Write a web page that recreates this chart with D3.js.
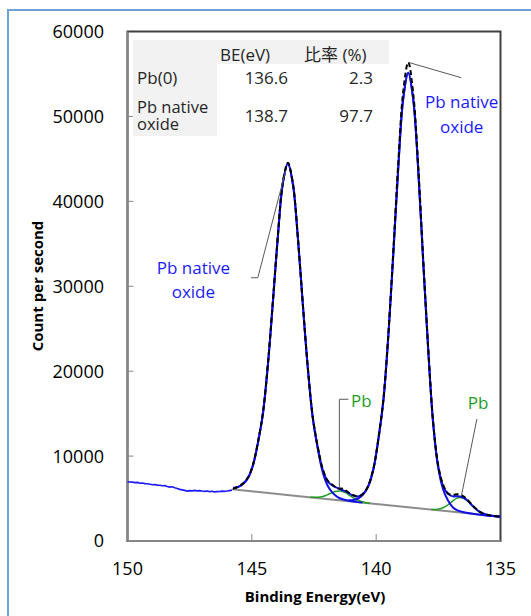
<!DOCTYPE html>
<html>
<head>
<meta charset="utf-8">
<script src="https://cdn.jsdelivr.net/npm/d3@7"></script>
<style>
  body { margin: 0; background: #fff; }
  svg { display: block; font-family: "Open Sans", "Noto Sans CJK JP", sans-serif; }
</style>
</head>
<body>
<svg id="chart" width="531" height="616"></svg>
<script>
// raw scan (blue, noisy) on the high binding energy side
const rawScan = [
  [150.0, 6980], [149.9, 6950], [149.8, 6930], [149.7, 6880], [149.6, 6900], [149.5, 6800],
  [149.4, 6820], [149.3, 6760], [149.2, 6740], [149.1, 6690], [149.0, 6620], [148.9, 6650],
  [148.8, 6580], [148.7, 6560], [148.6, 6500], [148.5, 6520], [148.4, 6430], [148.3, 6350],
  [148.2, 6380], [148.1, 6260], [148.0, 6180], [147.9, 6080], [147.8, 6020], [147.7, 5960],
  [147.6, 5880], [147.5, 5930], [147.4, 5900], [147.3, 5960], [147.2, 5900], [147.1, 5930],
  [147.0, 5880], [146.9, 5840], [146.8, 5880], [146.7, 5820], [146.6, 5850], [146.5, 5790],
  [146.4, 5810], [146.3, 5830], [146.2, 5870], [146.1, 5840], [146.0, 5880], [145.9, 5930],
  [145.8, 5990]
];

// Pb native oxide 4f5/2 component
const oxide52 = [
  [145.75, 6230], [145.55, 6365], [145.35, 6736], [145.15, 7457], [144.95, 8959], [144.75, 11633],
  [144.55, 15087], [144.35, 20886], [144.15, 28245], [143.95, 35995], [143.75, 42183], [143.55, 44466],
  [143.35, 42063], [143.15, 35756], [142.95, 27886], [142.75, 20407], [142.55, 14489], [142.35, 10915],
  [142.15, 8122], [141.95, 6500], [141.75, 5659], [141.55, 5169], [141.35, 4914], [141.15, 4777],
  [140.95, 4679], [140.75, 4579], [140.55, 4519]
];

// Pb native oxide 4f7/2 component
const oxide72 = [
  [141.11, 4789], [140.91, 4832], [140.71, 5028], [140.51, 5531], [140.31, 6495], [140.11, 8482],
  [139.91, 12005], [139.71, 16551], [139.51, 24168], [139.31, 33833], [139.11, 44009], [138.91, 52138],
  [138.71, 55150], [138.51, 52018], [138.31, 43770], [138.11, 32963], [137.91, 22667], [137.71, 13906],
  [137.51, 8729], [137.31, 6110], [137.11, 4771], [136.91, 3943], [136.71, 3576], [136.51, 3413],
  [136.31, 3303], [136.11, 3218], [135.91, 3132], [135.0, 2860]
];

// Pb(0) metal components
const metal52 = [
  [142.65, 5164], [142.45, 5142], [142.25, 5182], [142.05, 5331], [141.85, 5590], [141.65, 5838],
  [141.45, 5889], [141.25, 5719], [141.05, 5351], [140.85, 4972], [140.65, 4703], [140.45, 4545],
  [140.25, 4447]
];
const metal72 = [
  [137.79, 3721], [137.59, 3723], [137.39, 3823], [137.19, 4099], [136.99, 4552], [136.79, 4988],
  [136.59, 5105], [136.39, 4869], [136.19, 4313], [135.99, 3740], [135.79, 3344], [135.59, 3125],
  [135.39, 3004], [135.19, 2922], [135.0, 2860]
];

// background
const background = [[145.8, 6090], [143.0, 5250], [140.0, 4360], [137.0, 3460], [135.0, 2860]];

// fitted envelope (blue) and measured spectrum (black dashed)
const fitEnvelope = [
  [145.75, 6230], [145.55, 6365], [145.35, 6736], [145.15, 7457], [144.95, 8959], [144.75, 11633],
  [144.55, 15087], [144.35, 20886], [144.15, 28245], [143.95, 35995], [143.75, 42183], [143.55, 44466],
  [143.35, 42063], [143.15, 35756], [142.95, 27886], [142.75, 20416], [142.55, 14522], [142.35, 11014],
  [142.15, 8375], [141.95, 7017], [141.75, 6506], [141.55, 6236], [141.35, 5981], [141.15, 5726],
  [140.95, 5376], [140.75, 5232], [140.55, 5488], [140.35, 6283], [140.11, 8482], [139.91, 12005],
  [139.71, 16551], [139.51, 24168], [139.31, 33833], [139.11, 44009], [138.91, 52138], [138.71, 55150],
  [138.51, 52018], [138.31, 43770], [138.11, 32963], [137.91, 22667], [137.71, 13945], [137.51, 8871],
  [137.31, 6482], [137.11, 5550], [136.91, 5253], [136.71, 5275], [136.51, 5148], [136.31, 4719],
  [136.11, 4103], [135.91, 3575], [135.71, 3249], [135.51, 3065], [135.31, 2963], [135.0, 2860]
];
const measured = [
  [145.75, 6150], [145.55, 6400], [145.35, 6800], [145.15, 7500], [144.95, 9050], [144.75, 11750],
  [144.55, 15200], [144.35, 21000], [144.15, 28400], [143.95, 36100], [143.75, 42300], [143.55, 44550],
  [143.35, 42150], [143.15, 35800], [142.95, 27950], [142.75, 20500], [142.55, 14650], [142.35, 11150],
  [142.15, 8500], [141.95, 7100], [141.75, 6600], [141.55, 6200], [141.35, 6150], [141.15, 5800],
  [140.95, 5450], [140.75, 5250], [140.55, 5500], [140.35, 6300], [140.11, 8550], [139.91, 12100],
  [139.71, 16700], [139.51, 24400], [139.31, 34200], [139.11, 44600], [138.91, 53000], [138.71, 56370],
  [138.51, 52700], [138.31, 44200], [138.11, 33300], [137.91, 22900], [137.71, 14100], [137.51, 9000],
  [137.31, 6650], [137.11, 5600], [136.91, 5450], [136.71, 5500], [136.51, 5300], [136.31, 4800],
  [136.11, 4150], [135.91, 3600], [135.71, 3250], [135.51, 3070], [135.31, 2960], [135.0, 2860]
];

const xTicks = [150, 145, 140, 135];
const yTicks = [0, 10000, 20000, 30000, 40000, 50000, 60000];
const tableHeader = ["BE(eV)", "比率 (%)"];
const tableRows = [
  { name: ["Pb(0)"], be: "136.6", ratio: "2.3" },
  { name: ["Pb native", "oxide"], be: "138.7", ratio: "97.7" }
];

const svg = d3.select("#chart");
const margin = { left: 127.5, right: 500.5, top: 31.5, bottom: 541 };

const x = d3.scaleLinear().domain([150, 135]).range([margin.left, margin.right]);
const y = d3.scaleLinear().domain([0, 60000]).range([margin.bottom, margin.top]);

// outer chart frame
svg.append("rect")
  .attr("x", 8).attr("y", 10).attr("width", 560).attr("height", 640)
  .attr("fill", "none").attr("stroke", "#6fa0d8").attr("stroke-width", 2);

// plot area border
svg.append("rect")
  .attr("x", margin.left).attr("y", margin.top)
  .attr("width", margin.right - margin.left).attr("height", margin.bottom - margin.top)
  .attr("fill", "none").attr("stroke", "#404040").attr("stroke-width", 2);

// axes lines (gray) and inner ticks
const axisColor = "#868686";
svg.append("line")
  .attr("x1", margin.left).attr("x2", margin.left)
  .attr("y1", margin.top).attr("y2", margin.bottom)
  .attr("stroke", axisColor).attr("stroke-width", 2);
svg.append("line")
  .attr("x1", margin.left).attr("x2", margin.right)
  .attr("y1", margin.bottom).attr("y2", margin.bottom)
  .attr("stroke", axisColor).attr("stroke-width", 2);

svg.append("g").selectAll("line")
  .data(yTicks.slice(1, -1))
  .enter().append("line")
  .attr("x1", margin.left).attr("x2", margin.left + 6)
  .attr("y1", (d) => y(d)).attr("y2", (d) => y(d))
  .attr("stroke", axisColor).attr("stroke-width", 1);

svg.append("g").selectAll("line")
  .data(xTicks.slice(1, -1))
  .enter().append("line")
  .attr("x1", (d) => x(d)).attr("x2", (d) => x(d))
  .attr("y1", margin.bottom).attr("y2", margin.bottom - 7)
  .attr("stroke", axisColor).attr("stroke-width", 1);

// tick labels
svg.append("g").selectAll("text")
  .data(yTicks)
  .enter().append("text")
  .attr("x", 104).attr("y", (d) => y(d))
  .attr("dy", "0.36em")
  .attr("text-anchor", "end")
  .attr("font-size", 18).attr("fill", "#000")
  .text((d) => d);

svg.append("g").selectAll("text")
  .data(xTicks)
  .enter().append("text")
  .attr("x", (d) => x(d)).attr("y", 575)
  .attr("text-anchor", "middle")
  .attr("font-size", 18).attr("fill", "#000")
  .text((d) => d);

// axis titles
svg.append("text")
  .attr("x", 315).attr("y", 602)
  .attr("text-anchor", "middle")
  .attr("font-size", 15).attr("font-weight", "bold")
  .text("Binding Energy(eV)");

svg.append("text")
  .attr("transform", "translate(43,286) rotate(-90)")
  .attr("text-anchor", "middle")
  .attr("font-size", 15).attr("font-weight", "bold")
  .text("Count per second");

// table with results
const table = svg.append("g");
table.append("rect")
  .attr("x", 133).attr("y", 40).attr("width", 256).attr("height", 24)
  .attr("fill", "#f2f2f2");
table.append("rect")
  .attr("x", 133).attr("y", 64).attr("width", 84).attr("height", 72)
  .attr("fill", "#f2f2f2");

table.selectAll("text.head")
  .data(tableHeader)
  .enter().append("text")
  .attr("class", "head")
  .attr("x", (d, i) => (i === 0 ? 220 : 304))
  .attr("y", 61)
  .attr("font-size", 17).attr("fill", "#262626")
  .text((d) => d);

const rowBase = [84, 122];
tableRows.forEach((r, i) => {
  const nameY = r.name.length === 1 ? [rowBase[i]] : [rowBase[i] - 9, rowBase[i] + 8];
  r.name.forEach((line, j) => {
    table.append("text")
      .attr("x", 137).attr("y", nameY[j])
      .attr("font-size", r.name.length === 1 ? 17 : 16.5).attr("fill", "#262626")
      .text(line);
  });
  table.append("text")
    .attr("x", 288).attr("y", rowBase[i])
    .attr("text-anchor", "end")
    .attr("font-size", 17).attr("fill", "#262626")
    .text(r.be);
  table.append("text")
    .attr("x", 373).attr("y", rowBase[i])
    .attr("text-anchor", "end")
    .attr("font-size", 17).attr("fill", "#262626")
    .text(r.ratio);
});

// spectra
const line = d3.line()
  .x((d) => x(d[0]))
  .y((d) => y(d[1]))
  .curve(d3.curveCatmullRom);

const plot = svg.append("g");

plot.append("path").datum(background)
  .attr("d", d3.line().x((d) => x(d[0])).y((d) => y(d[1])))
  .attr("fill", "none").attr("stroke", "#8c8c8c").attr("stroke-width", 2);

[metal52, metal72].forEach((s) => {
  plot.append("path").datum(s)
    .attr("d", line)
    .attr("fill", "none").attr("stroke", "#1e9e1e").attr("stroke-width", 1.5);
});

[oxide52, oxide72, fitEnvelope].forEach((s) => {
  plot.append("path").datum(s)
    .attr("d", line)
    .attr("fill", "none").attr("stroke", "#0f0fe6").attr("stroke-width", 2);
});

plot.append("path").datum(measured)
  .attr("d", line)
  .attr("fill", "none").attr("stroke", "#000").attr("stroke-width", 2)
  .attr("stroke-dasharray", "5,3");

plot.append("path").datum(rawScan)
  .attr("d", d3.line().x((d) => x(d[0])).y((d) => y(d[1])))
  .attr("fill", "none").attr("stroke", "#1a1aff").attr("stroke-width", 1.6);

// annotations (positions in data units)
const leaderColor = "#595959";
const leaders = [
  [[138.71, 56370], [136.58, 54560]],
  [[145.03, 31000], [144.76, 31000], [143.64, 43600]],
  [[141.12, 16690], [141.48, 16690], [141.48, 6210]],
  [[135.95, 14370], [136.57, 5360]]
];
leaders.forEach((pts) => {
  svg.append("path").datum(pts)
    .attr("d", d3.line().x((d) => x(d[0])).y((d) => y(d[1])))
    .attr("fill", "none").attr("stroke", leaderColor).attr("stroke-width", 1);
});

const labels = [
  { t: "Pb native", be: 136.56, c: 51700, color: "#1a1aff", anchor: "middle" },
  { t: "oxide", be: 136.56, c: 48750, color: "#1a1aff", anchor: "middle" },
  { t: "Pb native", be: 147.35, c: 32180, color: "#1a1aff", anchor: "middle" },
  { t: "oxide", be: 147.35, c: 29360, color: "#1a1aff", anchor: "middle" },
  { t: "Pb", be: 141.01, c: 16490, color: "#1e9e1e", anchor: "start" },
  { t: "Pb", be: 135.9, c: 16220, color: "#1e9e1e", anchor: "middle" }
];
svg.append("g").selectAll("text")
  .data(labels)
  .enter().append("text")
  .attr("x", (d) => x(d.be)).attr("y", (d) => y(d.c))
  .attr("dy", "0.36em")
  .attr("text-anchor", (d) => d.anchor)
  .attr("font-size", 17).attr("fill", (d) => d.color)
  .text((d) => d.t);
</script>
</body>
</html>
